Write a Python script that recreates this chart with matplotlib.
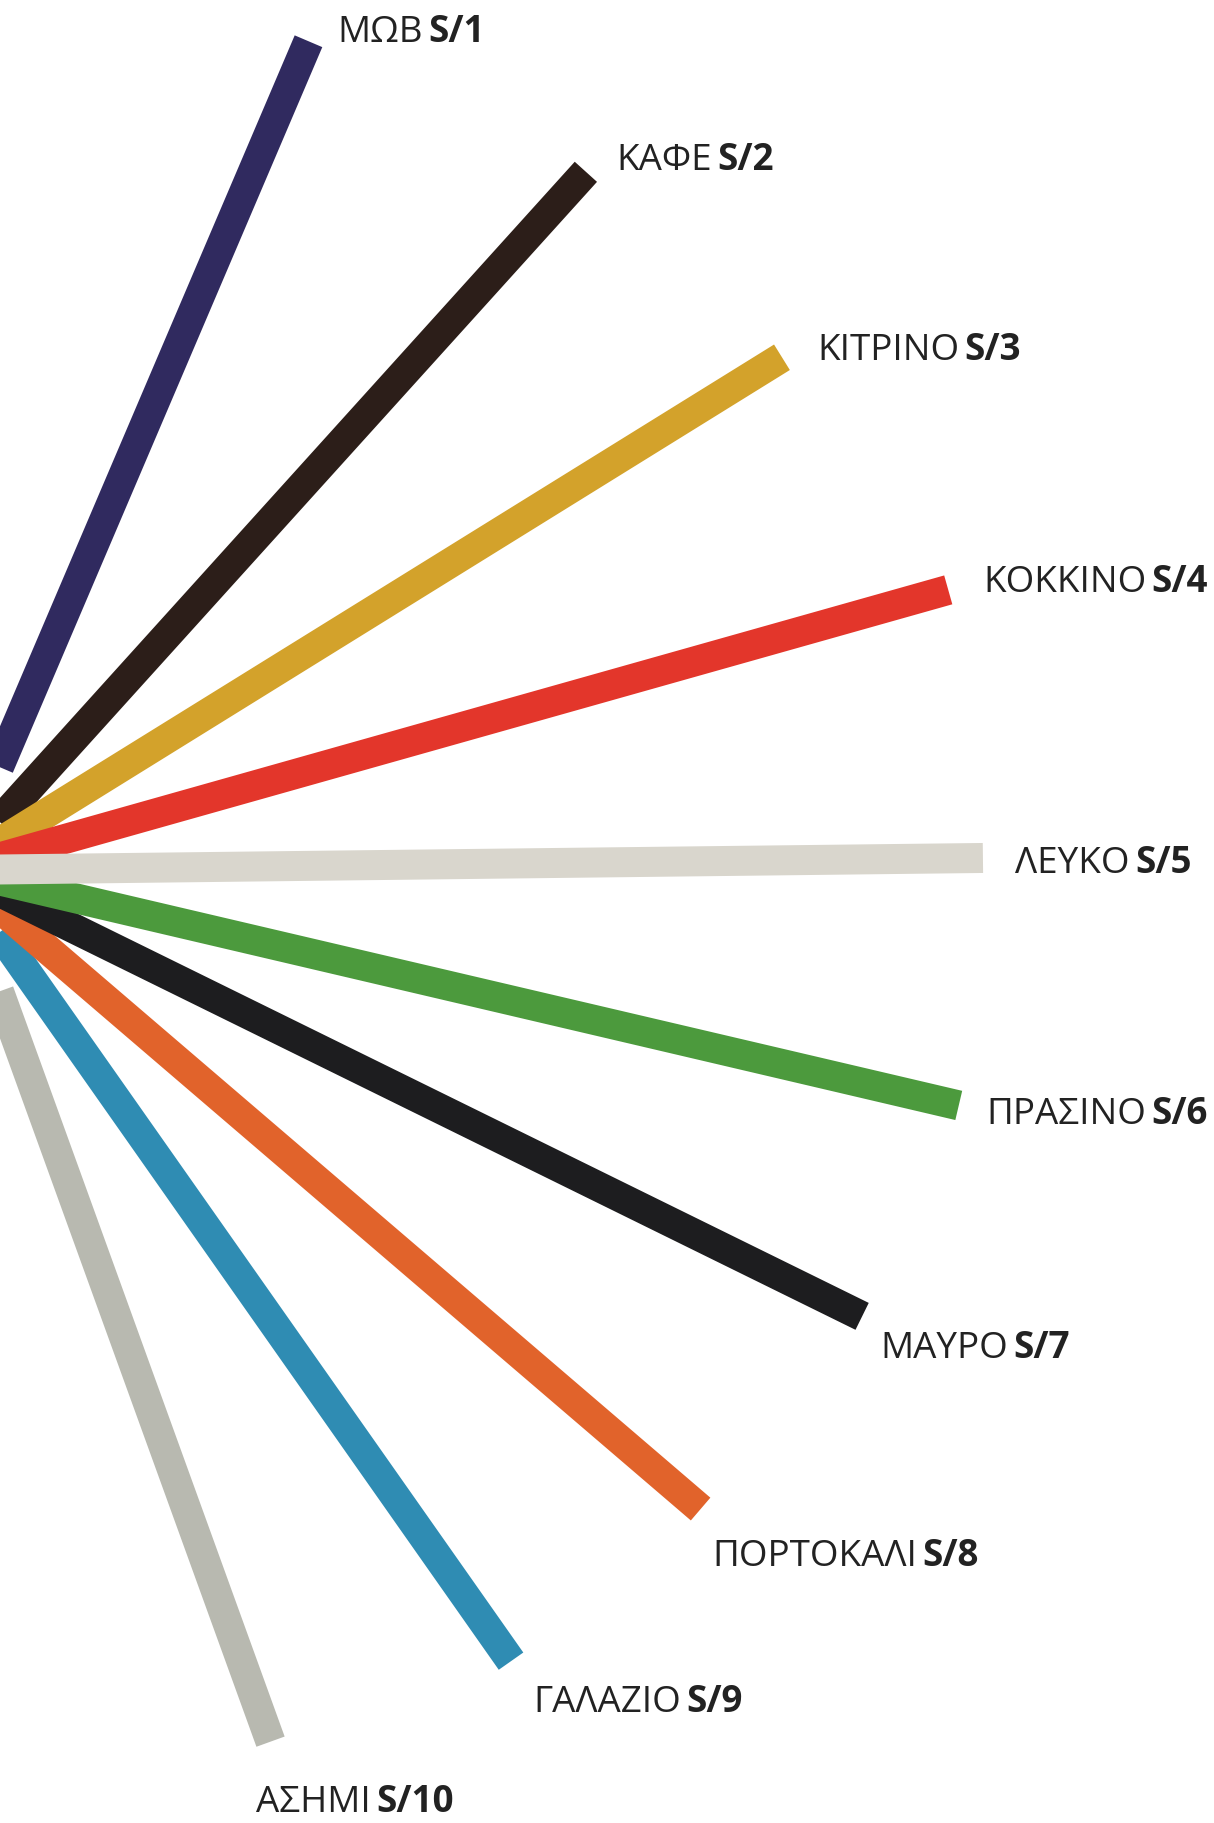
import numpy as np
import matplotlib.pyplot as plt

plt.rcParams['font.family'] = ['Open Sans', 'DejaVu Sans']

# colour names and codes, top to bottom
names = ['ΜΩΒ', 'ΚΑΦΕ', 'ΚΙΤΡΙΝΟ', 'ΚΟΚΚΙΝΟ', 'ΛΕΥΚΟ',
         'ΠΡΑΣΙΝΟ', 'ΜΑΥΡΟ', 'ΠΟΡΤΟΚΑΛΙ', 'ΓΑΛΑΖΙΟ', 'ΑΣΗΜΙ']
codes = ['S/1', 'S/2', 'S/3', 'S/4', 'S/5', 'S/6', 'S/7', 'S/8', 'S/9', 'S/10']
colors = ['#302a5f', '#2c1e19', '#d3a22b', '#e3362b', '#d9d6cd',
          '#4c9a3d', '#1d1d1f', '#e1632b', '#2f8cb3', '#b8b9b0']

# fan angles (deg, up is positive) and strip lengths (px)
angles = [66.9, 47.9, 31.8, 15.75, 0.67, -13.2, -26.2, -40.6, -54.9, -70.1]
lengths = [901, 941, 973, 1032, 1028, 1031, 1011, 982, 967, 927]

# label anchors (left edge, vertical centre), px
label_x = [337, 616, 817, 983, 1015, 986, 880, 712, 533, 256]
label_y = [33, 161, 351, 583, 864, 1115, 1349, 1557, 1703, 1803]

W, H = 1214, 1823
fig = plt.figure(figsize=(W / 100, H / 100), dpi=100)
ax = fig.add_axes([0, 0, 1, 1])
ax.set_xlim(0, W)
ax.set_ylim(H, 0)
ax.axis('off')

x0, y0 = -45, 870
strip_w = 30 * 72 / 100

# draw outer strips first so the middle ones sit on top
order = [0, 9, 1, 8, 2, 7, 3, 6, 5, 4]
for i in order:
    a = np.radians(angles[i])
    x1 = x0 + lengths[i] * np.cos(a)
    y1 = y0 - lengths[i] * np.sin(a)
    ax.plot([x0, x1], [y0, y1], color=colors[i], lw=strip_w,
            solid_capstyle='butt')

for i in range(len(names)):
    t = ax.text(label_x[i], label_y[i], names[i], fontsize=26.5,
                color='#222222', ha='left', va='center')
    ax.annotate(codes[i], xy=(1, 0), xycoords=t, xytext=(4, 0),
                textcoords='offset points', fontsize=26.5, fontweight='bold',
                color='#222222', ha='left', va='bottom')

fig.savefig('out.png', dpi=100, facecolor='white')
